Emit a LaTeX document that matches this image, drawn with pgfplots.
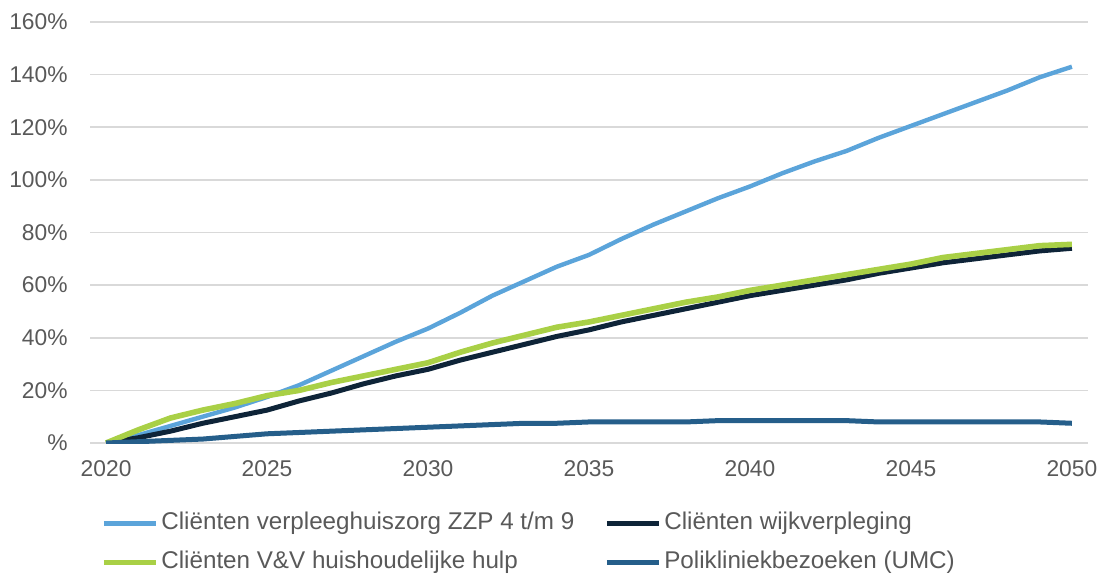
\documentclass[border=0pt]{standalone}
\usepackage{fontspec}
\setmainfont{Liberation Sans}
\usepackage{pgfplots}
\pgfplotsset{compat=1.18}
\usepackage{pgfplotstable}
\definecolor{cblue}{HTML}{5BA4DA}
\definecolor{cnavy}{HTML}{0E2438}
\definecolor{cgreen}{HTML}{A9D046}
\definecolor{cumc}{HTML}{255E8A}
\definecolor{cgrid}{HTML}{D9D9D9}
\definecolor{ctext}{HTML}{595959}

\pgfplotstableread{
year zzp wijk vv umc
2020 0 0 0 0
2021 3 2 5 0.5
2022 6.5 4.5 9.5 1
2023 10 7.5 12.5 1.5
2024 13.5 10 15 2.5
2025 17.5 12.5 18 3.5
2026 22 16 20 4
2027 27.5 19 23 4.5
2028 33 22.5 25.5 5
2029 38.5 25.5 28 5.5
2030 43.5 28 30.5 6
2031 49.5 31.5 34.5 6.5
2032 56 34.5 38 7
2033 61.5 37.5 41 7.5
2034 67 40.5 44 7.5
2035 71.5 43 46 8
2036 77.5 46 48.5 8
2037 83 48.5 51 8
2038 88 51 53.5 8
2039 93 53.5 55.5 8.5
2040 97.5 56 58 8.5
2041 102.5 58 60 8.5
2042 107 60 62 8.5
2043 111 62 64 8.5
2044 116 64.5 66 8
2045 120.5 66.5 68 8
2046 125 68.5 70.5 8
2047 129.5 70 72 8
2048 134 71.5 73.5 8
2049 139 73 75 8
2050 143 74 75.5 7.5
}\datatable

\begin{document}
\begin{tikzpicture}
\useasboundingbox (0,0) rectangle (550.5pt,287pt);
\begin{axis}[
  at={(45pt,65.5pt)}, anchor=south west,
  width=499pt, height=210.5pt, scale only axis,
  xmin=2019.5, xmax=2050.5,
  ymin=0, ymax=160,
  axis line style={draw=none},
  major tick length=0pt,
  xtick={2020,2025,...,2050},
  xticklabels={2020,2025,2030,2035,2040,2045,2050},
  ytick={0,20,...,160},
  yticklabels={\%,20\%,40\%,60\%,80\%,100\%,120\%,140\%,160\%},
  ymajorgrids,
  grid style={cgrid, line width=0.8pt},
  tick label style={font=\fontsize{11.4}{13}\selectfont, text=ctext},
  yticklabel style={inner xsep=0pt, xshift=-11pt},
  xticklabel style={inner ysep=0pt, yshift=-8.5pt},
  legend columns=2,
  legend cell align=left,
  legend style={
    at={(axis description cs:0.011,-0.163)}, anchor=north west,
    draw=none, fill=none,
    font=\fontsize{12.1}{14}\selectfont, text=ctext,
    inner sep=0pt,
    nodes={inner xsep=1.5pt, inner ysep=0pt, text height=8.5pt, text depth=2.5pt},
    row sep=8.5pt,
    /tikz/every even column/.append style={column sep=13.5pt},
  },
  legend image code/.code={\draw[#1, line width=2.5pt] (0pt,0pt) -- (26pt,0pt);},
]
\addplot[cblue, line width=2.2pt] table[x=year,y=zzp] {\datatable};
\addlegendentry{Cliënten verpleeghuiszorg ZZP 4 t/m 9}
\addplot[cnavy, line width=2.5pt] table[x=year,y=wijk] {\datatable};
\addlegendentry{Cliënten wijkverpleging}
\addplot[cgreen, line width=2.8pt] table[x=year,y=vv] {\datatable};
\addlegendentry{Cliënten V\&V huishoudelijke hulp}
\addplot[cumc, line width=2.5pt] table[x=year,y=umc] {\datatable};
\addlegendentry{Polikliniekbezoeken (UMC)}
\end{axis}
\end{tikzpicture}
\end{document}
